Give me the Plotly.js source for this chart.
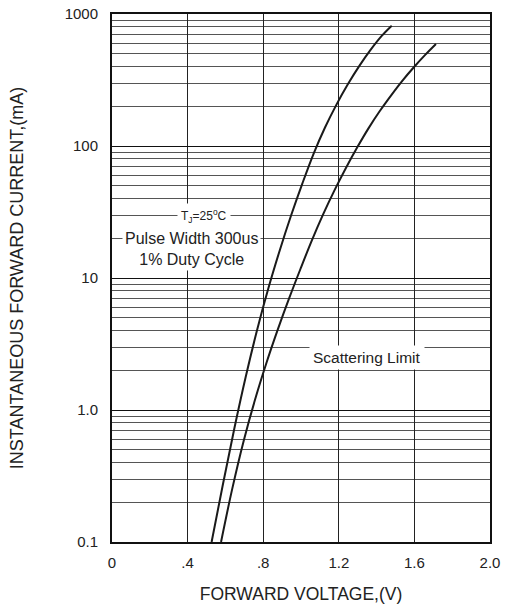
<!DOCTYPE html>
<html>
<head>
<meta charset="utf-8">
<script src="https://cdn.plot.ly/plotly-3.0.1.min.js"></script>
<style>html,body{margin:0;padding:0;background:#fff;}#chart{width:505px;height:608px;}</style>
</head>
<body>
<div id="chart"></div>
<script>
// Forward voltage (V) and instantaneous forward current (mA)
const leftV  = [0.527, 0.587, 0.647, 0.707, 0.767, 0.827, 0.887, 0.947, 1.007, 1.067, 1.127, 1.187, 1.247, 1.307, 1.367, 1.427, 1.480];
const leftI  = [0.1,   0.274, 0.721, 1.77,  4.00,  8.32,  16.1,  29.6,  51.9,  87.7,  138,   205,   292,   401,   532,   682,   815];
const rightV = [0.577, 0.637, 0.697, 0.757, 0.817, 0.877, 0.937, 0.997, 1.057, 1.117, 1.177, 1.237, 1.297, 1.357, 1.417, 1.477, 1.537, 1.597, 1.657, 1.714];
const rightI = [0.1,   0.256, 0.586, 1.20,  2.27,  4.06,  7.00,  11.7,  19.2,  30.3,  46.1,  67.9,  97.3,  136,   184,   242,   313,   395,   490,   593];

const xTickVals = [0, 0.4, 0.8, 1.2, 1.6, 2.0];
const xTickText = ["0", ".4", ".8", "1.2", "1.6", "2.0"];
const yTickVals = [0.1, 1, 10, 100, 1000];
const yTickText = ["0.1", "1.0", "10", "100", "1000"];

const font = "Liberation Sans, Arial, Helvetica, sans-serif";
const lineStyle = {color: "#1a1a1a", width: 2, shape: "spline", smoothing: 1};

const traces = [
  {x: leftV, y: leftI, mode: "lines", line: lineStyle, hoverinfo: "skip", showlegend: false},
  {x: rightV, y: rightI, mode: "lines", line: lineStyle, hoverinfo: "skip", showlegend: false}
];

const layout = {
  width: 505, height: 608,
  margin: {l: 112, r: 15, t: 14, b: 66},
  paper_bgcolor: "#fff", plot_bgcolor: "#fff",
  font: {family: font, color: "#222", size: 15},
  showlegend: false,
  xaxis: {
    range: [0, 2.0], tickvals: xTickVals, ticktext: xTickText,
    showgrid: true, gridcolor: "#222", gridwidth: 1,
    showline: true, linecolor: "#111", linewidth: 2, mirror: true,
    ticks: "", ticklabelstandoff: 6, zeroline: false,
    tickfont: {size: 15, color: "#222"},
    title: {text: "FORWARD VOLTAGE,(V)", font: {size: 17.5, color: "#222"}, standoff: 18}
  },
  yaxis: {
    type: "log", range: [-1, 3], tickvals: yTickVals, ticktext: yTickText,
    showgrid: true, gridcolor: "#111", gridwidth: 1,
    minor: {showgrid: true, gridcolor: "#555", gridwidth: 1, dtick: "D1"},
    showline: true, linecolor: "#111", linewidth: 2, mirror: true,
    ticks: "", ticklabelstandoff: 9, zeroline: false,
    tickfont: {size: 15, color: "#222"},
    title: {text: "INSTANTANEOUS FORWARD CURRENT,(mA)", font: {size: 18, color: "#222"}, standoff: 36}
  },
  annotations: [
    {x: 0.487, y: 1.47, xref: "x", yref: "y", text: "T<sub>J</sub>=25<sup>o</sup>C", showarrow: false,
     font: {size: 12, color: "#222"}, bgcolor: "#fff", borderpad: 3},
    {x: 0.418, y: 1.216, xref: "x", yref: "y", text: "Pulse Width 300us<br>1% Duty Cycle", showarrow: false,
     font: {size: 16, color: "#222"}, bgcolor: "#fff", borderpad: 2},
    {x: 1.349, y: 0.394, xref: "x", yref: "y", text: "Scattering Limit", showarrow: false,
     font: {size: 15.5, color: "#222"}, bgcolor: "#fff", borderpad: 3}
  ]
};

Plotly.newPlot("chart", traces, layout, {displayModeBar: false, staticPlot: true});
</script>
</body>
</html>
